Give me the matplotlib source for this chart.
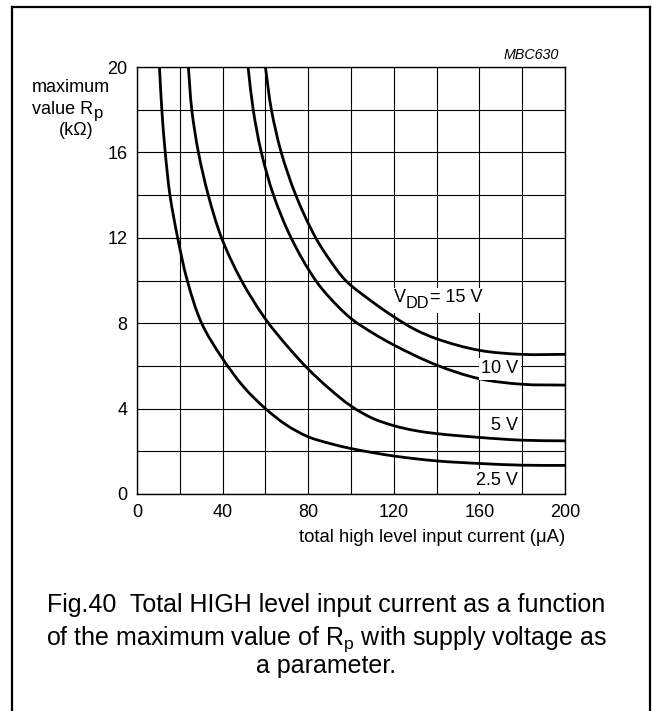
import numpy as np
import matplotlib
matplotlib.use("Agg")
import matplotlib.pyplot as plt
from matplotlib.lines import Line2D
from matplotlib.path import Path
from matplotlib.patches import PathPatch

plt.rcParams['font.family'] = ['Liberation Sans', 'DejaVu Sans']
plt.rcParams['mathtext.fontset'] = 'custom'
plt.rcParams['mathtext.rm'] = 'Liberation Sans'
plt.rcParams['mathtext.it'] = 'Liberation Sans:italic'

# ---- data (x: µA, y: kΩ) ----
x_25 = [10.5, 11.6, 13.2, 15.4, 19.0, 23.5, 30.2, 40.0, 50.0, 60.0, 70.0, 80.0, 90.0, 100.0, 120.0, 140.0, 160.0, 180.0, 200.0]
y_25 = [20.0, 18.0, 16.0, 14.0, 12.0, 10.0, 8.0, 6.34, 5.0, 4.0, 3.22, 2.68, 2.37, 2.13, 1.78, 1.55, 1.43, 1.35, 1.34]

x_5 = [24.0, 25.6, 28.7, 33.3, 39.5, 48.8, 60.0, 70.0, 80.0, 90.0, 100.0, 110.0, 120.0, 130.0, 140.0, 160.0, 180.0, 200.0]
y_5 = [20.0, 18.0, 16.0, 14.0, 12.0, 10.0, 8.2, 6.95, 5.85, 4.92, 4.12, 3.55, 3.2, 2.97, 2.83, 2.65, 2.52, 2.49]

x_10 = [51.9, 54.3, 58.1, 63.8, 72.0, 83.5, 90.0, 100.0, 110.0, 120.0, 140.0, 160.0, 180.0, 200.0]
y_10 = [20.0, 18.0, 16.0, 14.0, 12.0, 10.0, 9.2, 8.22, 7.55, 6.98, 6.04, 5.4, 5.14, 5.1]

x_15 = [60.0, 62.8, 67.4, 74.2, 83.5, 90.5, 97.5, 110.0, 120.0, 130.0, 140.0, 160.0, 180.0, 200.0]
y_15 = [20.0, 18.0, 16.0, 14.0, 12.0, 10.9, 10.0, 9.0, 8.3, 7.7, 7.27, 6.73, 6.54, 6.54]

x_ticks = [0, 20, 40, 60, 80, 100, 120, 140, 160, 180, 200]
x_tick_labels = ['0', '', '40', '', '80', '', '120', '', '160', '', '200']
y_ticks = [0, 2, 4, 6, 8, 10, 12, 14, 16, 18, 20]
y_tick_labels = ['0', '', '4', '', '8', '', '12', '', '16', '', '20']

W, H = 652, 711
FS = 13.0
fig = plt.figure(figsize=(W / 100, H / 100), dpi=100)
ax = fig.add_axes([137 / W, 1 - 494 / H, (565 - 137) / W, (494 - 67) / H])
ax.set_xlim(0, 200)
ax.set_ylim(0, 20)

# pixel-per-unit scales (to build smooth tangents in display-like space)
SX, SY = 428 / 200, 427 / 20


def smooth_path(xs, ys):
    P = np.column_stack([np.asarray(xs) * SX, np.asarray(ys) * SY])
    n = len(P)
    T = np.zeros_like(P)
    for i in range(n):
        if i == 0:
            d = P[1] - P[0]
        elif i == n - 1:
            d = P[-1] - P[-2]
        else:
            a = P[i] - P[i - 1]
            b = P[i + 1] - P[i]
            d = a / np.linalg.norm(a) + b / np.linalg.norm(b)
        T[i] = d / np.linalg.norm(d)
    verts = [P[0]]
    codes = [Path.MOVETO]
    for i in range(n - 1):
        L = np.linalg.norm(P[i + 1] - P[i]) / 3.0
        verts += [P[i] + T[i] * L, P[i + 1] - T[i + 1] * L, P[i + 1]]
        codes += [Path.CURVE4] * 3
    V = np.array(verts) / np.array([SX, SY])
    return Path(V, codes)


for xs, ys in [(x_25, y_25), (x_5, y_5), (x_10, y_10), (x_15, y_15)]:
    ax.add_patch(PathPatch(smooth_path(xs, ys), fill=False, ec='black', lw=2.0,
                           joinstyle='round', capstyle='butt', zorder=3))

ax.set_xticks(x_ticks)
ax.set_xticklabels(x_tick_labels)
ax.set_yticks(y_ticks)
ax.set_yticklabels(y_tick_labels)
ax.tick_params(axis='both', length=0, labelsize=FS, colors='black')
ax.tick_params(axis='x', pad=7.5)
ax.tick_params(axis='y', pad=7)
ax.grid(True, color='black', lw=0.8, zorder=1)
ax.set_axisbelow(True)
for s in ax.spines.values():
    s.set_linewidth(1.0)
    s.set_color('black')

bb = dict(facecolor='white', edgecolor='none', boxstyle='square,pad=0.15')

fig.canvas.draw()
r = fig.canvas.get_renderer()

# V_DD = 15 V label built from pieces (subscript nearly full size as in reference)
t1 = ax.text(120.1, 9.0, 'V', fontsize=FS, ha='left', va='baseline', zorder=5)
ext = t1.get_window_extent(r)
t2 = ax.annotate('DD', xy=(120.1, 9.0), xycoords='data', xytext=(ext.width * 72 / 100, -4.5),
                 textcoords='offset points', fontsize=FS * 0.9, ha='left', va='baseline', zorder=5)
ext2 = t2.get_window_extent(r)
t3 = ax.annotate('= 15 V', xy=(120.1, 9.0), xycoords='data',
                 xytext=((ext.width + ext2.width) * 72 / 100, 0),
                 textcoords='offset points', fontsize=FS, ha='left', va='baseline', zorder=5)
ext3 = t3.get_window_extent(r)
inv = ax.transData.inverted()
x0, y0 = inv.transform((ext.x0 - 2, ext2.y0 - 2))
x1, y1 = inv.transform((ext3.x1 + 2, ext.y1 + 1))
ax.add_patch(plt.Rectangle((x0, y0), x1 - x0, y1 - y0, facecolor='white', edgecolor='none', zorder=2.5))

ax.text(178.2, 5.65, '10 V', fontsize=FS, ha='right', va='baseline', bbox=bb, zorder=4)
ax.text(178.2, 3.0, '5 V', fontsize=FS, ha='right', va='baseline', bbox=bb, zorder=4)
ax.text(178.2, 0.42, '2.5 V', fontsize=FS, ha='right', va='baseline', bbox=bb, zorder=4)

fig.text(559 / W, 1 - 59 / H, 'MBC630', fontsize=10.3, style='italic', ha='right', va='baseline')

# y-axis label
fig.text(31.7 / W, 1 - 91.7 / H, 'maximum', fontsize=FS, ha='left', va='baseline')
tv = fig.text(31.7 / W, 1 - 114 / H, 'value R', fontsize=FS, ha='left', va='baseline')
ev = tv.get_window_extent(r)
fig.text((ev.x1 + 1) / W, 1 - 118 / H, 'p', fontsize=FS * 0.92, ha='left', va='baseline')
fig.text(76 / W, 1 - 135 / H, '(kΩ)', fontsize=FS, ha='center', va='baseline')

# x-axis label
fig.text(565 / W, 1 - 542 / H, 'total high level input current (μA)',
         fontsize=13.3, ha='right', va='baseline')

# caption
CFS = 18
fig.text(0.5, 1 - 611.7 / H, 'Fig.40  Total HIGH level input current as a function',
         fontsize=CFS, ha='center', va='baseline')
fig.text(0.5, 1 - 644.5 / H, r'of the maximum value of R$_\mathrm{p}$ with supply voltage as',
         fontsize=CFS, ha='center', va='baseline')
fig.text(0.5, 1 - 673 / H, 'a parameter.', fontsize=CFS, ha='center', va='baseline')

# outer frame
lw_frame = 1.6
fig.add_artist(Line2D([11.5 / W, 11.5 / W], [0, 1 - 7 / H], color='black', lw=lw_frame, transform=fig.transFigure))
fig.add_artist(Line2D([650 / W, 650 / W], [0, 1 - 7 / H], color='black', lw=lw_frame, transform=fig.transFigure))
fig.add_artist(Line2D([11.5 / W, 650 / W], [1 - 7 / H, 1 - 7 / H], color='black', lw=lw_frame,
                      transform=fig.transFigure, solid_capstyle='projecting'))

fig.savefig('out.png', dpi=100)
